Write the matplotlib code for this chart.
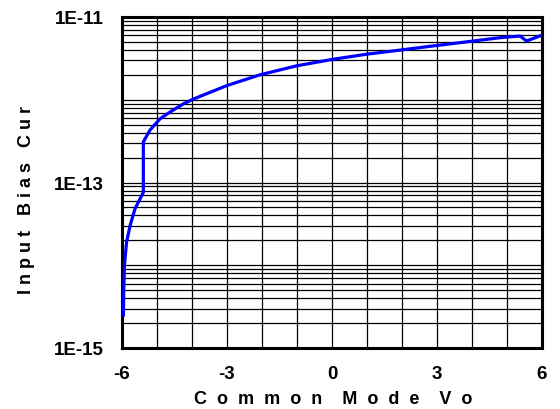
import matplotlib
matplotlib.use("Agg")
import matplotlib.pyplot as plt
from matplotlib.ticker import FixedLocator, LogLocator, NullFormatter

vcm = [-5.96, -5.95, -5.93, -5.87, -5.77, -5.63, -5.39, -5.39, -5.2, -4.91, -4.63,
       -4.25, -3.96, -3.01, -2.06, -1.01, 0.04, 0.99, 1.94, 2.89, 3.85, 4.8,
       5.37, 5.56, 6.0]
ibias = [2.5e-15, 5.0e-15, 1.0e-14, 1.9e-14, 3.0e-14, 4.8e-14, 7.6e-14, 3.1e-13,
         4.3e-13, 5.9e-13, 7.1e-13, 8.9e-13, 1.02e-12, 1.48e-12, 2.0e-12, 2.57e-12,
         3.09e-12, 3.55e-12, 3.98e-12, 4.47e-12, 5.01e-12, 5.62e-12,
         5.89e-12, 5.13e-12, 6.03e-12]

xticks = [-6, -3, 0, 3, 6]
yticks = [1e-15, 1e-13, 1e-11]
yticklabels = ["1E-15", "1E-13", "1E-11"]

plt.rcParams['font.family'] = ['Liberation Sans', 'DejaVu Sans']

fig = plt.figure(figsize=(5.6, 4.1), dpi=100)
ax = fig.add_axes([122/560, 1-349/410, 420/560, 331/410])

ax.plot(vcm, ibias, color='#0000ff', lw=2.3, solid_joinstyle='round', zorder=3)

ax.set_yscale('log')
ax.set_xlim(-6, 6)
ax.set_ylim(1e-15, 1e-11)

ax.xaxis.set_major_locator(FixedLocator(xticks))
ax.xaxis.set_minor_locator(FixedLocator(list(range(-6, 7))))
ax.set_xticklabels([str(t) for t in xticks], fontsize=13.5, fontweight='bold')
ax.yaxis.set_major_locator(FixedLocator(yticks))
ax.set_yticklabels(yticklabels, fontsize=13.5, fontweight='bold')
ax.yaxis.set_minor_locator(LogLocator(base=10, subs=range(1, 10), numticks=50))
ax.yaxis.set_minor_formatter(NullFormatter())

ax.grid(True, which='both', axis='both', color='black', lw=0.9)
ax.tick_params(axis='x', which='both', length=0, pad=12)
ax.tick_params(axis='y', which='both', length=0, pad=13)

for s in ax.spines.values():
    s.set_linewidth(2.2)
    s.set_color('black')

fig.text(333/560, 1-400/410, "C  o  m  m  o  n    M  o  d  e    V  o", fontsize=13,
         fontweight='bold', ha='center', va='center')
fig.text(27/560, 1-200/410, "I n p u t   B i a s   C u r", fontsize=13,
         fontweight='bold', ha='center', va='center', rotation=90)

fig.savefig("out.png", dpi=100)
